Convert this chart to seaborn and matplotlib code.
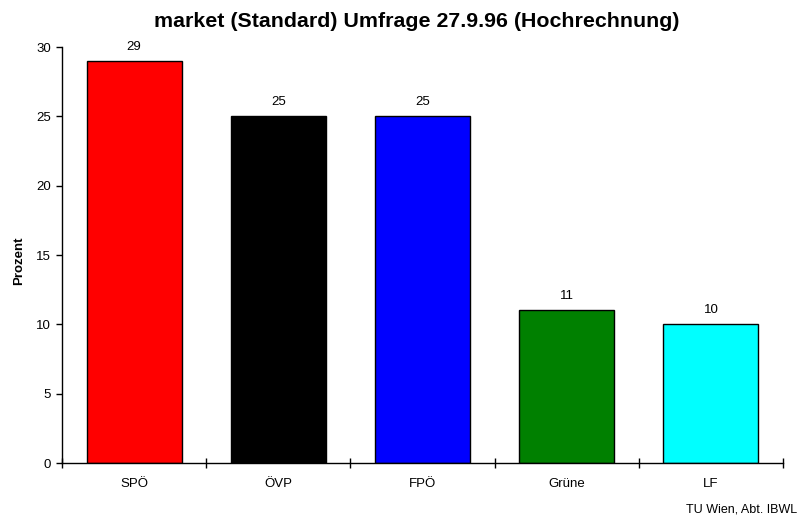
import matplotlib
matplotlib.use("Agg")
import matplotlib.pyplot as plt
import seaborn as sns

# data
parties = ["SPÖ", "ÖVP", "FPÖ", "Grüne", "LF"]
values = [29, 25, 25, 11, 10]
colors = ["#ff0000", "#000000", "#0000ff", "#008000", "#00ffff"]

sns.set_style("white")
plt.rcParams["font.family"] = ["Liberation Sans", "DejaVu Sans"]
plt.rcParams["text.color"] = "black"
plt.rcParams["axes.labelcolor"] = "black"
plt.rcParams["xtick.color"] = "black"
plt.rcParams["ytick.color"] = "black"

fig = plt.figure(figsize=(8.05, 5.18), dpi=100)
ax = fig.add_axes([62 / 805, 55 / 518, 721 / 805, 416 / 518])

sns.barplot(x=parties, y=values, hue=parties, palette=colors, width=0.66,
            edgecolor="black", linewidth=1, saturation=1, legend=False, ax=ax)

for c in ax.containers:
    ax.bar_label(c, padding=6, fontsize=9.5, color="black")

ax.set_xlim(-0.5, len(parties) - 0.5)
ax.set_ylim(0, 30)
ax.set_yticks(range(0, 31, 5))
ax.set_xticks(range(len(parties)))
ax.set_xticklabels(parties)
ax.set_xticks([i - 0.5 for i in range(len(parties) + 1)], minor=True)
ax.tick_params(axis="x", which="major", bottom=True, length=0, pad=11, labelsize=9.5)
ax.tick_params(axis="x", which="minor", bottom=True, direction="inout", length=7, width=1)
ax.tick_params(axis="y", left=True, direction="out", length=4, width=1, labelsize=9.5, pad=4)

sns.despine(ax=ax)
for s in ["left", "bottom"]:
    ax.spines[s].set_color("black")
    ax.spines[s].set_linewidth(1)

ax.set_ylabel("Prozent", fontsize=9.5, fontweight="bold")
ax.yaxis.set_label_coords(-0.051, 0.485)
ax.set_xlabel("")
fig.suptitle("market (Standard) Umfrage 27.9.96 (Hochrechnung)", fontsize=15.4,
             fontweight="bold", x=0.518, y=0.977)
fig.text(0.99, 0.005, "TU Wien, Abt. IBWL", ha="right", va="bottom", fontsize=9)

fig.savefig("out.png", dpi=100)
